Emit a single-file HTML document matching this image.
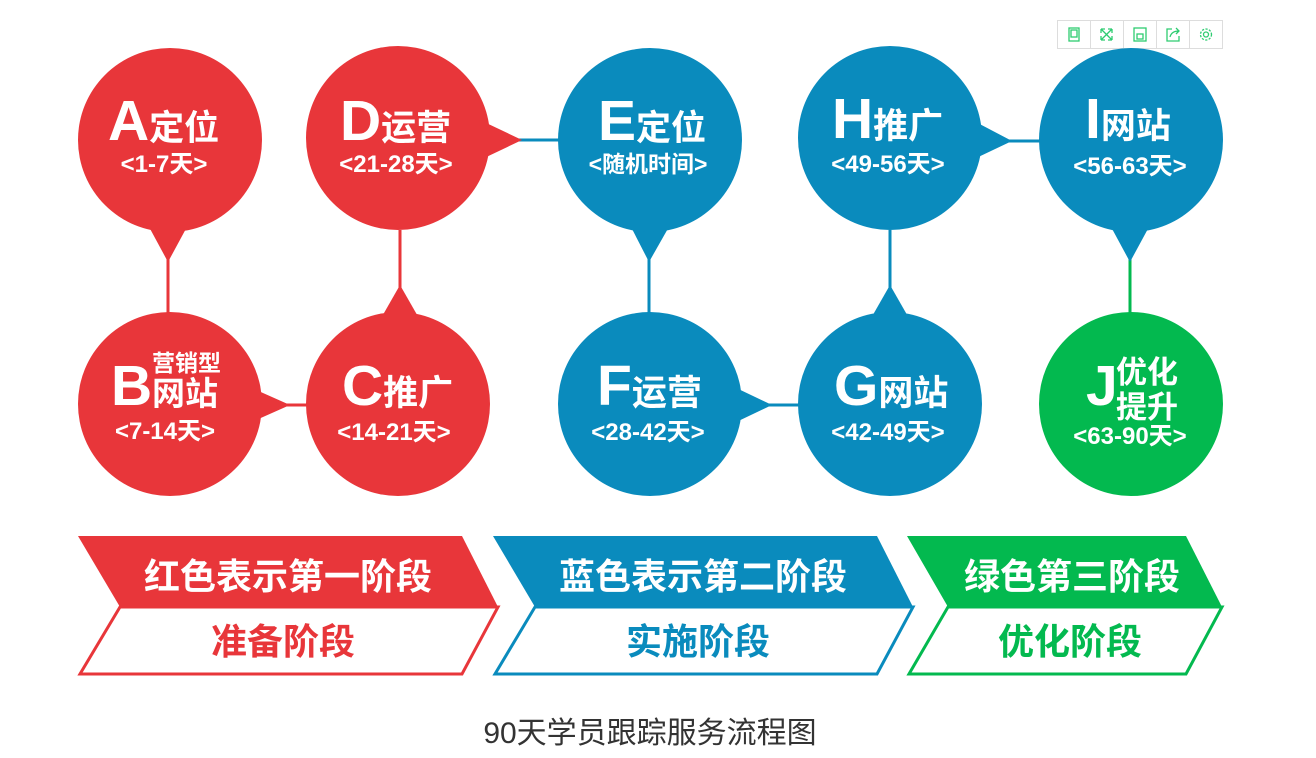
<!DOCTYPE html>
<html><head><meta charset="utf-8"><style>
html,body{margin:0;padding:0;background:#fff;}
svg{display:block;}
text{font-family:"Liberation Sans","Noto Sans CJK SC",sans-serif;}
.t{font-weight:bold;fill:#fff;}
</style></head><body>
<svg width="1316" height="758" viewBox="0 0 1316 758" xmlns="http://www.w3.org/2000/svg">
<!-- toolbar -->
<rect x="1057.5" y="20.5" width="165" height="28" fill="#fff" stroke="#ddd"/>
<g stroke="#ddd"><line x1="1090.5" y1="20" x2="1090.5" y2="48"/><line x1="1123.5" y1="20" x2="1123.5" y2="48"/><line x1="1156.5" y1="20" x2="1156.5" y2="48"/><line x1="1189.5" y1="20" x2="1189.5" y2="48"/></g>
<g stroke="#2ecc71" fill="none" stroke-width="1.3">
<rect x="1069" y="28" width="10" height="13"/><rect x="1071" y="30" width="6" height="7"/>
<path d="M1101 29l11 11M1112 29l-11 11M1101 29h4M1101 29v4M1112 29h-4M1112 29v4M1101 40h4M1101 40v-4M1112 40h-4M1112 40v-4"/>
<rect x="1134" y="28" width="12" height="13"/><rect x="1137" y="34" width="6" height="5"/>
<path d="M1172 29h-5v12h12v-5M1170 37c1-4 4-6 9-6M1176 28l3 3-3 3"/>
<circle cx="1206" cy="34.5" r="2.5"/><circle cx="1206" cy="34.5" r="5.5" stroke-dasharray="2.2 1.4"/>
</g>
<!-- connectors -->
<g stroke-width="3">
<line x1="168" y1="230" x2="168" y2="315" stroke="#e8363a"/>
<line x1="250" y1="405" x2="310" y2="405" stroke="#e8363a"/>
<line x1="400" y1="230" x2="400" y2="315" stroke="#e8363a"/>
<line x1="480" y1="140" x2="565" y2="140" stroke="#0a8bbd"/>
<line x1="649" y1="230" x2="649" y2="315" stroke="#0a8bbd"/>
<line x1="730" y1="405" x2="805" y2="405" stroke="#0a8bbd"/>
<line x1="890" y1="230" x2="890" y2="315" stroke="#0a8bbd"/>
<line x1="970" y1="141" x2="1045" y2="141" stroke="#0a8bbd"/>
<line x1="1130" y1="230" x2="1130" y2="315" stroke="#03b94f"/>
</g>
<!-- pointers -->
<polygon points="148,225 188,225 168,262" fill="#e8363a"/>
<polygon points="245,385 245,425 290,405" fill="#e8363a"/>
<polygon points="380,320 420,320 400,285" fill="#e8363a"/>
<polygon points="480,120 480,160 522,140" fill="#e8363a"/>
<polygon points="630,225 670,225 649,262" fill="#0a8bbd"/>
<polygon points="730,385 730,425 772,405" fill="#0a8bbd"/>
<polygon points="870,320 910,320 890,285" fill="#0a8bbd"/>
<polygon points="972,120 972,160 1012,141" fill="#0a8bbd"/>
<polygon points="1110,225 1150,225 1130,262" fill="#0a8bbd"/>
<!-- circles -->
<g fill="#e8363a"><circle cx="170" cy="140" r="92"/><circle cx="398" cy="138" r="92"/><circle cx="170" cy="404" r="92"/><circle cx="398" cy="404" r="92"/></g>
<g fill="#0a8bbd"><circle cx="650" cy="140" r="92"/><circle cx="890" cy="138" r="92"/><circle cx="1131" cy="140" r="92"/><circle cx="650" cy="404" r="92"/><circle cx="890" cy="404" r="92"/></g>
<circle cx="1131" cy="404" r="92" fill="#03b94f"/>
<!-- circle text -->
<g class="t">
<text x="108" y="140" font-size="57" class="t">A<tspan font-size="35">定位</tspan></text>
<text x="164" y="172" font-size="24" text-anchor="middle" class="t">&lt;1-7天&gt;</text>
<text x="340" y="140" font-size="57" class="t">D<tspan font-size="35">运营</tspan></text>
<text x="396" y="172" font-size="24" text-anchor="middle" class="t">&lt;21-28天&gt;</text>
<text x="598" y="140" font-size="57" class="t">E<tspan font-size="35">定位</tspan></text>
<text x="648" y="172" font-size="23" text-anchor="middle" class="t">&lt;随机时间&gt;</text>
<text x="832" y="138" font-size="57" class="t">H<tspan font-size="35">推广</tspan></text>
<text x="888" y="172" font-size="24" text-anchor="middle" class="t">&lt;49-56天&gt;</text>
<text x="1085" y="138" font-size="57" class="t">I<tspan font-size="35">网站</tspan></text>
<text x="1130" y="174" font-size="24" text-anchor="middle" class="t">&lt;56-63天&gt;</text>
<text x="111" y="405" font-size="57" class="t">B</text>
<text x="152" y="371" font-size="23" class="t">营销型</text>
<text x="152" y="405" font-size="33" class="t">网站</text>
<text x="165" y="439" font-size="24" text-anchor="middle" class="t">&lt;7-14天&gt;</text>
<text x="342" y="405" font-size="57" class="t">C<tspan font-size="35">推广</tspan></text>
<text x="394" y="440" font-size="24" text-anchor="middle" class="t">&lt;14-21天&gt;</text>
<text x="597" y="405" font-size="57" class="t">F<tspan font-size="35">运营</tspan></text>
<text x="648" y="440" font-size="24" text-anchor="middle" class="t">&lt;28-42天&gt;</text>
<text x="834" y="405" font-size="57" class="t">G<tspan font-size="35">网站</tspan></text>
<text x="888" y="440" font-size="24" text-anchor="middle" class="t">&lt;42-49天&gt;</text>
<text x="1086" y="405" font-size="57" class="t">J</text>
<text x="1116" y="383" font-size="31" class="t">优化</text>
<text x="1116" y="418" font-size="31" class="t">提升</text>
<text x="1130" y="444" font-size="24" text-anchor="middle" class="t">&lt;63-90天&gt;</text>
</g>
<!-- banners -->
<polygon points="78,536 462,536 498,607 120,607" fill="#e8363a"/>
<polygon points="120,607 498,607 462,674 80,674" fill="#fff" stroke="#e8363a" stroke-width="3"/>
<polygon points="493,536 877,536 913,607 535,607" fill="#0a8bbd"/>
<polygon points="535,607 913,607 877,674 495,674" fill="#fff" stroke="#0a8bbd" stroke-width="3"/>
<polygon points="907,536 1186,536 1222,607 948,607" fill="#03b94f"/>
<polygon points="948,607 1222,607 1186,674 909,674" fill="#fff" stroke="#03b94f" stroke-width="3"/>
<g font-weight="bold" font-size="36" text-anchor="middle">
<text x="288" y="589" fill="#fff">红色表示第一阶段</text>
<text x="283" y="654" fill="#e8363a">准备阶段</text>
<text x="703" y="589" fill="#fff">蓝色表示第二阶段</text>
<text x="698" y="654" fill="#0a8bbd">实施阶段</text>
<text x="1072" y="589" fill="#fff">绿色第三阶段</text>
<text x="1070" y="654" fill="#03b94f">优化阶段</text>
</g>
<text x="650" y="743" font-size="30" text-anchor="middle" fill="#333">90天学员跟踪服务流程图</text>
</svg>
</body></html>
